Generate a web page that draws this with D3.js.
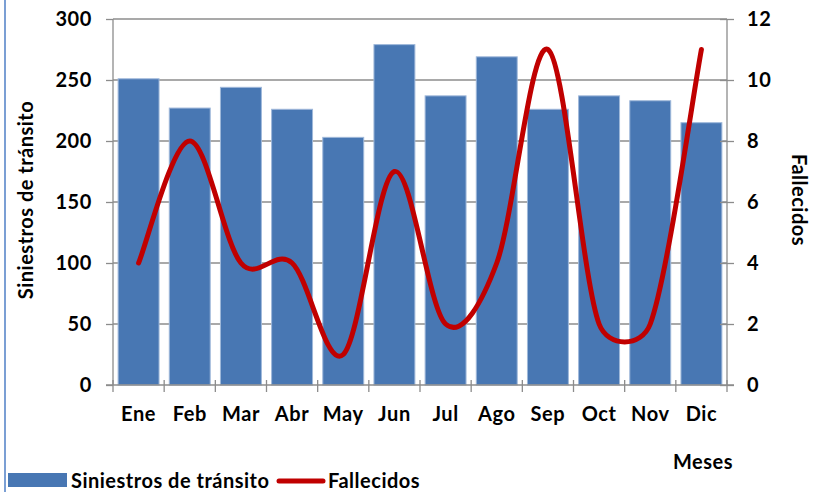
<!DOCTYPE html>
<html><head><meta charset="utf-8">
<script src="https://cdn.jsdelivr.net/npm/d3@7/dist/d3.min.js"></script>
<style>body{margin:0;background:#fff}svg{display:block}text{font-family:Lato,"Open Sans",sans-serif;font-weight:bold;fill:#000;letter-spacing:0.5px}</style>
</head><body>
<script>
const months = ["Ene","Feb","Mar","Abr","May","Jun","Jul","Ago","Sep","Oct","Nov","Dic"];
const siniestros = [251,227,244,226,203,279,237,269,226,237,233,215];
const fallecidos = [4,8,4,4,1,7,2,4,11,2,2,11];
const leftTicks = [0,50,100,150,200,250,300];
const rightTicks = [0,2,4,6,8,10,12];

const W=813,H=492, L=113, R=727, T=19, B=385;
const svg=d3.select("body").append("svg").attr("width",W).attr("height",H);
svg.append("rect").attr("x",4).attr("y",0).attr("width",2).attr("height",H).attr("fill","#7b9fd4");

const x=d3.scaleBand().domain(months).range([L,R]).paddingInner(0.2).paddingOuter(0.1);
const y=d3.scaleLinear().domain([0,300]).range([B,T]);
const y2=d3.scaleLinear().domain([0,12]).range([B,T]);

// Excel-style smoothing curve
function ExcelCurve(ctx){this._ctx=ctx;}
ExcelCurve.prototype={
  areaStart(){},areaEnd(){},
  lineStart(){this._p=[];},
  point(x,y){this._p.push([x,y]);},
  lineEnd(){
    const p=this._p,c=this._ctx,n=p.length;
    if(!n)return;
    const dist=(a,b)=>Math.hypot(a[0]-b[0],a[1]-b[1]);
    c.moveTo(p[0][0],p[0][1]);
    for(let i=0;i<n-1;i++){
      const p0=p[Math.max(i-1,0)],p1=p[i],p2=p[i+1],p3=p[Math.min(i+2,n-1)];
      const d02=dist(p0,p2),d12=dist(p1,p2),d13=dist(p1,p3);
      let f0=1/6,f1=1/6;
      if(d02/6>=d12/2&&d02>0)f0=d12/(2*d02);
      if(d13/6>=d12/2&&d13>0)f1=d12/(2*d13);
      const c1=[p1[0]+(p2[0]-p0[0])*f0,p1[1]+(p2[1]-p0[1])*f0];
      const c2=[p2[0]-(p3[0]-p1[0])*f1,p2[1]-(p3[1]-p1[1])*f1];
      c.bezierCurveTo(c1[0],c1[1],c2[0],c2[1],p2[0],p2[1]);
    }
  }
};
const excelCurve=ctx=>new ExcelCurve(ctx);

// gridlines
svg.append("g").selectAll("line").data(leftTicks.slice(1)).join("line")
 .attr("x1",L).attr("x2",R).attr("y1",d=>y(d)).attr("y2",d=>y(d)).attr("stroke","#8c8c8c").attr("stroke-width",1.3);

// bars
svg.append("g").selectAll("rect").data(siniestros).join("rect")
 .attr("x",(d,i)=>x(months[i])).attr("width",x.bandwidth())
 .attr("y",d=>y(d)).attr("height",d=>B-y(d))
 .attr("fill","#4877b3").attr("stroke","#9fb8da").attr("stroke-width",1);

// axes
const gl=svg.append("g").attr("transform",`translate(${L},0)`).call(d3.axisLeft(y).tickValues(leftTicks).tickSize(7).tickPadding(14));
const gr=svg.append("g").attr("transform",`translate(${R},0)`).call(d3.axisRight(y2).tickValues(rightTicks).tickSize(7).tickPadding(13));
gr.selectAll(".tick line").attr("x1",-7);
const edges=d3.range(13).map(i=>L+i*(R-L)/12);
const gx=svg.append("g").attr("transform",`translate(0,${B})`).call(d3.axisBottom(x).tickSize(0).tickPadding(22));
svg.append("g").selectAll("line").data(edges).join("line")
 .attr("x1",d=>d).attr("x2",d=>d).attr("y1",B-5).attr("y2",B+7).attr("stroke","#8c8c8c").attr("stroke-width",1.3);
[gl,gr,gx].forEach(g=>{
  g.selectAll(".domain").attr("stroke","#8c8c8c").attr("stroke-width",1.3);
  g.selectAll(".tick line").attr("stroke","#8c8c8c").attr("stroke-width",1.3);
  g.selectAll("text").style("font-size","20px").style("font-family","Lato, sans-serif").style("font-weight","bold").style("letter-spacing","0.6px").attr("fill","#000");
});
gl.select(".domain").attr("d",`M0,${T}V${B}`);
gr.select(".domain").attr("d",`M0,${T}V${B}`);
gx.select(".domain").attr("d",`M${L-7},0H${R+7}`);

// line
const line=d3.line().x((d,i)=>x(months[i])+x.bandwidth()/2).y(d=>y2(d)).curve(excelCurve);
svg.append("path").datum(fallecidos).attr("d",line).attr("fill","none").attr("stroke","#c00000").attr("stroke-width",5).attr("stroke-linecap","round");

// axis titles
svg.append("text").attr("transform","translate(33,200) rotate(-90)").attr("text-anchor","middle").style("font-size","20px").text("Siniestros de tránsito");
svg.append("text").attr("transform","translate(792,200) rotate(90)").attr("text-anchor","middle").style("font-size","20px").text("Fallecidos");
svg.append("text").attr("x",703).attr("y",469).attr("text-anchor","middle").style("font-size","20px").text("Meses");

// legend
svg.append("rect").attr("x",8).attr("y",473).attr("width",59).attr("height",14).attr("fill","#4877b3");
svg.append("text").attr("x",71).attr("y",488).style("font-size","20px").text("Siniestros de tránsito");
svg.append("line").attr("x1",279).attr("x2",323).attr("y1",481).attr("y2",481).attr("stroke","#c00000").attr("stroke-width",5).attr("stroke-linecap","round");
svg.append("text").attr("x",328).attr("y",488).style("font-size","20px").text("Fallecidos");
</script>
</body></html>
